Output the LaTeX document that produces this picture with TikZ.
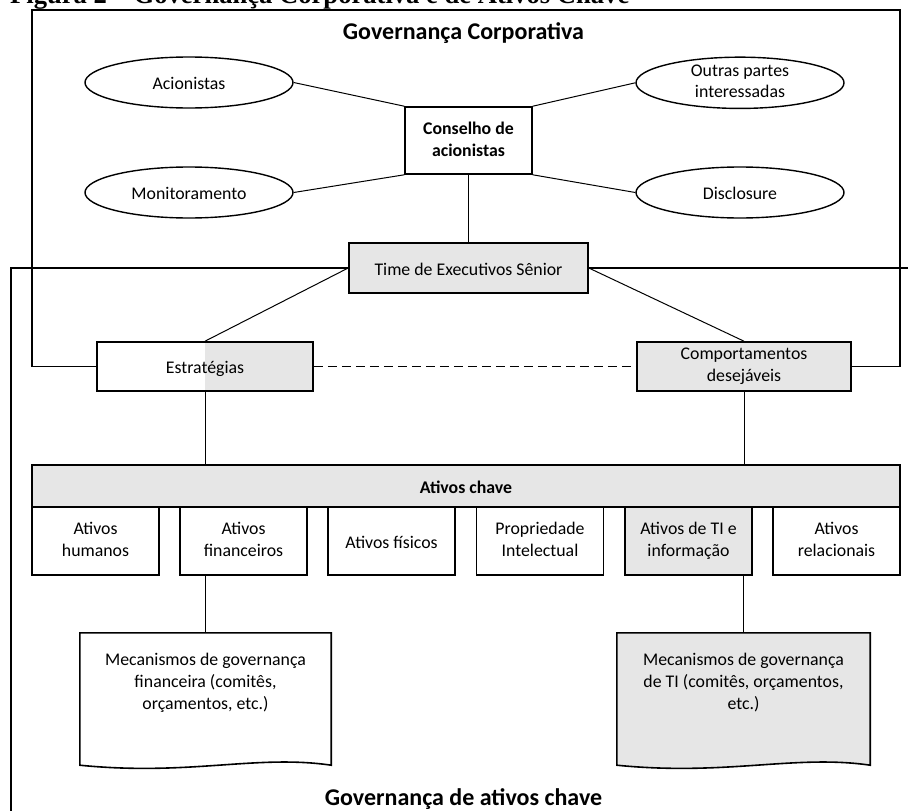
\documentclass[tikz,border=0pt]{standalone}
\usepackage{fontspec}
\setmainfont{Carlito}
\newfontfamily\capfont{Liberation Serif}
\usetikzlibrary{shapes.geometric}
\definecolor{gfill}{RGB}{230,230,230}
\newcommand{\bodyf}{\fontsize{17.8}{21.7}\selectfont}
\newcommand{\titlef}{\fontsize{24}{29}\selectfont\bfseries}
\newcommand{\bs}{\rule[-3pt]{0pt}{20pt}}
\begin{document}
\begin{tikzpicture}[x=1pt,y=1pt,
  txt/.style={execute at begin node=\bs, execute at end node=\bs},
  box/.style={draw, line width=1.6pt, inner sep=0pt, align=center, font=\bodyf, anchor=center, txt},
  gbox/.style={box, fill=gfill},
  ell/.style={ellipse, draw, line width=1.4pt, inner sep=0pt, font=\bodyf, align=center, minimum width=208, minimum height=51, txt},
  conn/.style={line width=1pt},
  frameA/.style={line width=1.8pt},
  frameB/.style={line width=1.3pt},
  docline/.style={line width=1.6pt},
]
\useasboundingbox (0,0) rectangle (908,-811);
\clip (0,0) rectangle (908,-811);
\fill[white] (0,0) rectangle (908,-811);

% caption (cut at top)
\node[anchor=base west, inner sep=0pt, font=\capfont\bfseries\fontsize{26.6}{30}\selectfont] (cap) at (10,-3.5) {Figura 2 – Governança Corporativa e de Ativos Chave};

% titles
\node[anchor=base, inner sep=0pt, font=\titlef] (gc) at (463.5,-39.5) {Governança Corporativa};
\node[anchor=base, inner sep=0pt, font=\titlef] (ga) at (463.5,-805) {Governança de ativos chave};

% ellipses
\node[ell] (acion) at (189,-82.5) {Acionistas};
\node[ell] (outras) at (740,-82.8) {Outras partes\\interessadas};
\node[ell] (monit) at (189,-192.5) {Monitoramento};
\node[ell] (discl) at (740,-192.5) {Disclosure};

% boxes
\node[box, minimum width=127, minimum height=67, font=\bodyf\bfseries] (cons) at (468.5,-140.5) {Conselho de\\acionistas};
\node[gbox, minimum width=239, minimum height=50] (time) at (468.5,-268) {Time de Executivos Sênior};
\node[box, minimum width=216, minimum height=49,
  path picture={\fill[gfill] (path picture bounding box.north) rectangle (path picture bounding box.south east);}] (estr) at (205,-366.5) {Estratégias};
\node[gbox, minimum width=214, minimum height=49] (comp) at (744,-366.5) {Comportamentos\\desejáveis};

\node[gbox, minimum width=868, minimum height=42, font=\bodyf\bfseries] (bar) at (466,-486) {Ativos chave};

\node[box, minimum width=127, minimum height=68] (hum) at (95.5,-541) {Ativos\\humanos};
\node[box, minimum width=127, minimum height=68] (fin) at (243.5,-541) {Ativos\\financeiros};
\node[box, minimum width=127, minimum height=68] (fis) at (391.5,-541) {Ativos físicos};
\node[box, minimum width=127, minimum height=68] (prop) at (540,-541) {Propriedade\\Intelectual};
\node[gbox, minimum width=127, minimum height=68] (ti) at (688.5,-541) {Ativos de TI e\\informação};
\node[box, minimum width=127, minimum height=68] (rel) at (836.5,-541) {Ativos\\relacionais};

% document shapes
\node[inner sep=0pt, minimum width=251, minimum height=132] (mecF) at (205.5,-699) {};
\draw[docline] (mecF.north west) -- (mecF.south west) .. controls +(110,-11) and +(-75,11) .. (mecF.south east) -- (mecF.north east) -- cycle;
\node[inner sep=0pt, align=center, font=\bodyf, txt] (mecFt) at (205.5,-683) {Mecanismos de governança\\financeira (comitês,\\orçamentos, etc.)};

\node[inner sep=0pt, minimum width=253, minimum height=132] (mecT) at (743.5,-699) {};
\draw[docline, fill=gfill] (mecT.north west) -- (mecT.south west) .. controls +(110,-11) and +(-75,11) .. (mecT.south east) -- (mecT.north east) -- cycle;
\node[inner sep=0pt, align=center, font=\bodyf, txt] (mecTt) at (743.5,-683) {Mecanismos de governança\\de TI (comitês, orçamentos,\\etc.)};

% frames
\coordinate (gcTL) at (32,-10);
\coordinate (gcTR) at (900,-10);
\draw[frameA] (estr.west) -| (gcTL) -- (gcTR) |- (comp.east);
\coordinate (gaB) at (11,-830);
\coordinate (gaR) at (920,-268);
\draw[frameB] (time.west) -| (gaB);
\draw[frameB] (time.east) -- (gaR);

% connectors
\draw[conn] (acion.east) -- (cons.north west);
\draw[conn] (outras.west) -- (cons.north east);
\draw[conn] (monit.east) -- (cons.south west);
\draw[conn] (discl.west) -- (cons.south east);
\draw[conn] (cons.south) -- (time.north);
\draw[conn] (time.west) -- (estr.north);
\draw[conn] (time.east) -- (comp.north);
\draw[conn, dash pattern=on 9pt off 5pt] (estr.east) -- (comp.west);
\draw[conn] (estr.south) -- (estr.south |- bar.north);
\draw[conn] (comp.south) -- (comp.south |- bar.north);
\draw[conn] (mecF.north |- fin.south) -- (mecF.north);
\draw[conn] (mecT.north |- ti.south) -- (mecT.north);
\end{tikzpicture}
\end{document}
